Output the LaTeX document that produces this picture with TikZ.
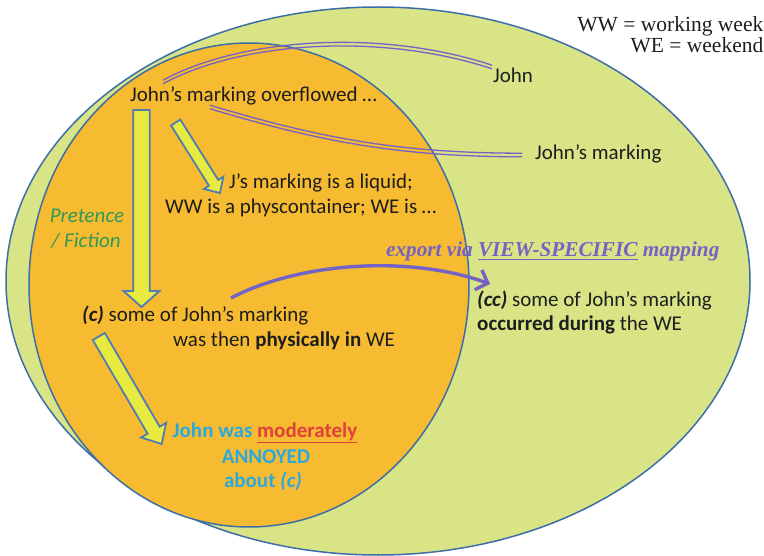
\documentclass[tikz,border=0pt]{standalone}
\usepackage{fontspec}
\setmainfont{Carlito}
\newfontfamily\legendserif{Liberation Serif}
\usetikzlibrary{calc,arrows.meta}

\definecolor{bgGreen}{HTML}{D8E486}
\definecolor{bgOrange}{HTML}{F6BB30}
\definecolor{rim}{HTML}{3D6EA8}
\definecolor{arrowYellow}{HTML}{E8EA40}
\definecolor{linkViolet}{HTML}{7462C6}
\definecolor{txtDark}{HTML}{1E1E1E}
\definecolor{txtCyan}{HTML}{2BA9DF}
\definecolor{txtRed}{HTML}{E2403B}
\definecolor{txtGreen}{HTML}{2E9A58}

% block arrow: #1 start (shaft centre), #2 tip, #3 half shaft width,
% #4 half head width, #5 head length
\newcommand\blockarrow[5]{%
  \coordinate (#1-hb) at ($(#2)!#5!(#1)$);
  \draw[yellowarrow]
    ($(#1)!#3!90:(#2)$) -- ($(#1-hb)!#3!90:(#2)$) -- ($(#1-hb)!#4!90:(#2)$)
    -- (#2)
    -- ($(#1-hb)!#4!-90:(#2)$) -- ($(#1-hb)!#3!-90:(#2)$) -- ($(#1)!#3!-90:(#2)$)
    -- cycle;}

\begin{document}
\begin{tikzpicture}[x=1pt,y=-1pt,
  every node/.style={inner sep=0pt, text=txtDark,
    font=\fontsize{21}{25}\selectfont},
  rimline/.style={draw=rim, line width=1.5pt},
  yellowarrow/.style={draw=rim!90!white, fill=arrowYellow, line width=1.8pt,
    line join=miter},
  linkline/.style={draw=linkViolet, line width=1.3pt},
  exportline/.style={draw=linkViolet, line width=3.4pt,
    -{Straight Barb[length=10pt,width=21pt]}},
  txt/.style={anchor=base west},
  legend/.style={anchor=base east,
    font=\legendserif\fontsize{21.5}{25}\selectfont},
  fiction/.style={anchor=base, text=txtGreen,
    font=\fontsize{21}{25}\selectfont\itshape},
  mood/.style={anchor=base, text=txtCyan,
    font=\fontsize{21}{25}\selectfont\bfseries},
]
\useasboundingbox (0,0) rectangle (764,556);
\fill[white] (0,0) rectangle (764,556);

% the two spaces
\draw[rimline, fill=bgGreen] (378,281) ellipse [x radius=372, y radius=274];
\draw[rimline, fill=bgOrange] (249,285) ellipse [x radius=220, y radius=242];

% legend
\node[legend] (ww) at (763.5,32) {WW = working week};
\node[legend] (we) at (763.5,53) {WE = weekend};

% texts
\node[txt] (over) at (130,102) {John’s marking overflowed …};
\node[txt] (john) at (493,83) {John};
\node[txt] (jmark) at (535,160) {John’s marking};
\node[txt] (liq1) at (229,189) {J’s marking is a liquid;};
\node[txt] (liq2) at (165,214) {WW is a physcontainer; WE is …};
\node[fiction] (pret) at (87,223) {Pretence};
\node[fiction] (fict) at (86,248) {/ Fiction};
\node[txt] (c1) at (82,322) {\textbf{\textit{(c)}} some of John’s marking};
\node[txt] (c2) at (173,347) {was then \textbf{physically in} WE};
\node[txt] (cc1) at (477,307) {\textbf{\textit{(cc)}} some of John’s marking};
\node[txt] (cc2) at (477,331) {\textbf{occurred during} the WE};
\node[txt, text=linkViolet, font=\legendserif\fontsize{21.2}{25}\selectfont\bfseries\itshape]
  (export) at (386,257) {export via \underline{VIEW-SPECIFIC} mapping};
\node[mood] (ann1) at (265,437) {John was \textcolor{txtRed}{\underline{moderately}}};
\node[mood] (ann2) at (266,463) {ANNOYED};
\node[mood] (ann3) at (263,487) {about \textit{(c)}};

% yellow block arrows
\coordinate (a1) at (141.5,110);  \coordinate (a1t) at (141.5,307);
\coordinate (a2) at (175.7,122.5); \coordinate (a2t) at (220,193);
\coordinate (a3) at (98.8,336.5); \coordinate (a3t) at (161.7,444);
\blockarrow{a1}{a1t}{8.3pt}{18pt}{16pt}
\blockarrow{a2}{a2t}{5.5pt}{11.5pt}{12pt}
\blockarrow{a3}{a3t}{7pt}{14.5pt}{16pt}

% violet twin lines linking the phrase to its referents
\coordinate (l1a) at (163,82);  \coordinate (l1p) at (240,40);
\coordinate (l1q) at (380,30);  \coordinate (l1b) at (492,67);
\coordinate (l2a) at (210,107); \coordinate (l2p) at (320,140);
\coordinate (l2q) at (400,155); \coordinate (l2b) at (522,155);
\foreach \o in {-1.8,1.8}{
  \draw[linkline] ([yshift=\o pt]l1a) .. controls ([yshift=\o pt]l1p)
    and ([yshift=\o pt]l1q) .. ([yshift=\o pt]l1b);
  \draw[linkline] ([yshift=\o pt]l2a) .. controls ([yshift=\o pt]l2p)
    and ([yshift=\o pt]l2q) .. ([yshift=\o pt]l2b);
}

% export mapping arrow
\coordinate (e1) at (231,298); \coordinate (e2) at (490,284);
\draw[exportline] (e1) .. controls (300,262) and (410,255) .. (e2);
\end{tikzpicture}
\end{document}
